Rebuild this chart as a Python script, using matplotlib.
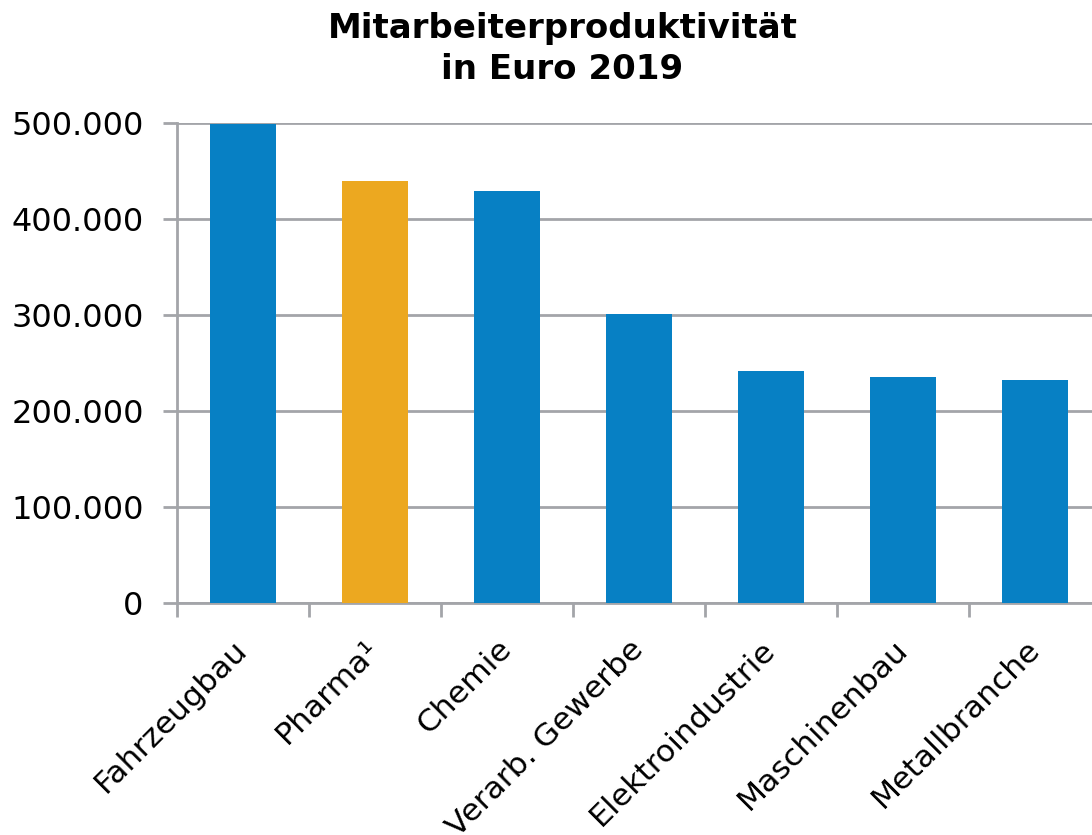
import matplotlib.pyplot as plt
from matplotlib.ticker import FuncFormatter

# Werte
branchen = ["Fahrzeugbau", "Pharma¹", "Chemie", "Verarb. Gewerbe",
            "Elektroindustrie", "Maschinenbau", "Metallbranche"]
produktivitaet = [499000, 440000, 429000, 301000, 242000, 235000, 232000]
farben = ["#0780C4", "#ECA820", "#0780C4", "#0780C4", "#0780C4", "#0780C4", "#0780C4"]
y_ticks = [0, 100000, 200000, 300000, 400000, 500000]

grau = "#A3A5A9"

fig = plt.figure(figsize=(10.92, 8.35), dpi=100)
ax = fig.add_axes([0.1621, 0.2778, 0.8462, 0.5749])

ax.bar(range(len(branchen)), produktivitaet, width=0.5, color=farben, zorder=3)

ax.set_xlim(-0.5, len(branchen) - 0.5)
ax.set_ylim(0, 500000)
ax.set_yticks(y_ticks)
ax.yaxis.set_major_formatter(FuncFormatter(lambda v, p: f"{int(v):,}".replace(",", ".")))
ax.yaxis.grid(True, color=grau, linewidth=2, zorder=0)

# Ticks auf den Kategoriengrenzen
ax.set_xticks([i - 0.5 for i in range(len(branchen) + 1)])
ax.set_xticklabels([])
ax.set_xticks(range(len(branchen)), minor=True)
ax.set_xticklabels(branchen, minor=True, rotation=45, ha="right", va="center",
                   rotation_mode="anchor", fontsize=22.6)
ax.tick_params(axis="x", which="minor", length=0, pad=30)
ax.tick_params(axis="x", which="major", length=10, width=2, color=grau)
ax.tick_params(axis="y", length=10, width=2, color=grau, labelsize=23, pad=14)

for s in ["top", "right"]:
    ax.spines[s].set_visible(False)
for s in ["left", "bottom"]:
    ax.spines[s].set_color(grau)
    ax.spines[s].set_linewidth(2)

fig.text(0.515, 0.986, "Mitarbeiterproduktivität\nin Euro 2019", ha="center", va="top",
         fontsize=24.5, fontweight="bold", linespacing=1.32)

fig.savefig("out.png", dpi=100)
